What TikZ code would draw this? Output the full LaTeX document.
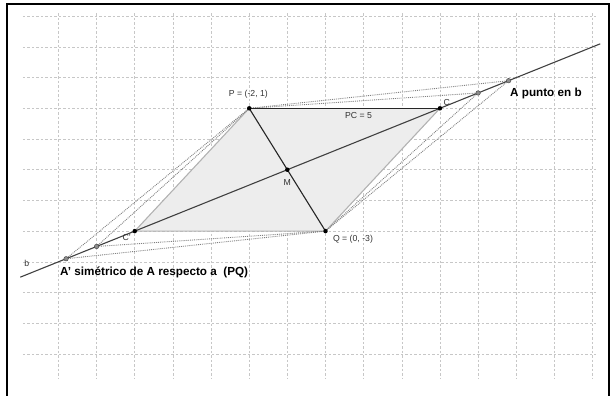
\documentclass[tikz,border=0pt]{standalone}
\usepackage{fontspec}
\setmainfont{Liberation Sans}
\begin{document}
\begin{tikzpicture}[x=38.15bp,y=30.7bp,
  gridline/.style={draw=black!22, line width=0.6bp, dash pattern=on 2.5bp off 2bp},
  frameline/.style={draw=black, line width=1.3bp},
  lineb/.style={draw=black!75, line width=1.1bp},
  segdark/.style={draw=black!85, line width=1.1bp},
  edgelight/.style={draw=black!30, line width=1.1bp},
  trace/.style={draw=black!50, line width=0.9bp, densely dotted},
  polyfill/.style={fill=black!7},
  ptdark/.style={circle, fill=black, inner sep=0pt, minimum size=4.5bp},
  ptlight/.style={circle, fill=black!45, draw=black!70, line width=0.5bp, inner sep=0pt, minimum size=4.5bp},
  lbl/.style={text=black!80, font=\fontsize{8.7bp}{10bp}\selectfont, inner sep=0pt},
  biglbl/.style={text=black, font=\fontsize{11.7bp}{13bp}\selectfont\bfseries, inner sep=0pt, anchor=west}]
\useasboundingbox (-8.532,4.528) rectangle (7.562,-8.339);
% frame
\draw[frameline] (-8.349,-8.4) -- (-8.349,4.397) -- (7.431,4.397) -- (7.431,-8.4);
% grid
\foreach \i in {-7,...,7} \draw[gridline] (\i,4.1) -- (\i,-7.8);
\foreach \j in {-7,...,4} \draw[gridline] (-7.93,\j) -- (7.1,\j);
% coordinates
\coordinate (P) at (-2,1);
\coordinate (Q) at (0,-3);
\coordinate (C) at (3,1);
\coordinate (Cp) at (-5,-3);
\coordinate (M) at (-1,-1);
\coordinate (A) at (4.8,1.9);
\coordinate (A2) at (4,1.5);
\coordinate (Ap) at (-6.8,-3.9);
\coordinate (A2p) at (-6,-3.5);
\coordinate (bL) at (-8,-4.5);
\coordinate (bR) at (7.2,3.1);
% polygon
\fill[polyfill] (P) -- (C) -- (Q) -- (Cp) -- cycle;
\draw[edgelight] (C) -- (Q) -- (Cp) -- (P);
% traces
\draw[trace] (P) -- (A) -- (Q);
\draw[trace] (P) -- (A2) -- (Q);
\draw[trace] (P) -- (Ap) -- (Q);
\draw[trace] (P) -- (A2p) -- (Q);
% segments
\draw[segdark] (P) -- (C);
\draw[segdark] (P) -- (Q);
\draw[lineb] (bL) -- (bR);
% points
\node[ptdark] (nP) at (P) {};
\node[ptdark] (nQ) at (Q) {};
\node[ptdark] (nC) at (C) {};
\node[ptdark] (nCp) at (Cp) {};
\node[ptdark] (nM) at (M) {};
\node[ptlight] (nA) at (A) {};
\node[ptlight] (nA2) at (A2) {};
\node[ptlight] (nAp) at (Ap) {};
\node[ptlight] (nA2p) at (A2p) {};
% labels
\node[lbl] (lP) at (-2.02,1.45) {P = (-2, 1)};
\node[lbl] (lPC) at (0.865,0.75) {PC = 5};
\node[lbl] (lC) at (3.18,1.18) {C};
\node[lbl] (lM) at (-1.0,-1.42) {M};
\node[lbl] (lQ) at (0.72,-3.27) {Q = (0, -3)};
\node[lbl] (lCp) at (-5.21,-3.2) {C'};
\node[lbl] (lb) at (-7.83,-4.04) {b};
\node[biglbl] (lA) at (4.836,1.49) {A punto en b};
\node[biglbl] (lAp) at (-6.96,-4.33) {A' simétrico de A respecto a \ (PQ)};
\end{tikzpicture}
\end{document}
